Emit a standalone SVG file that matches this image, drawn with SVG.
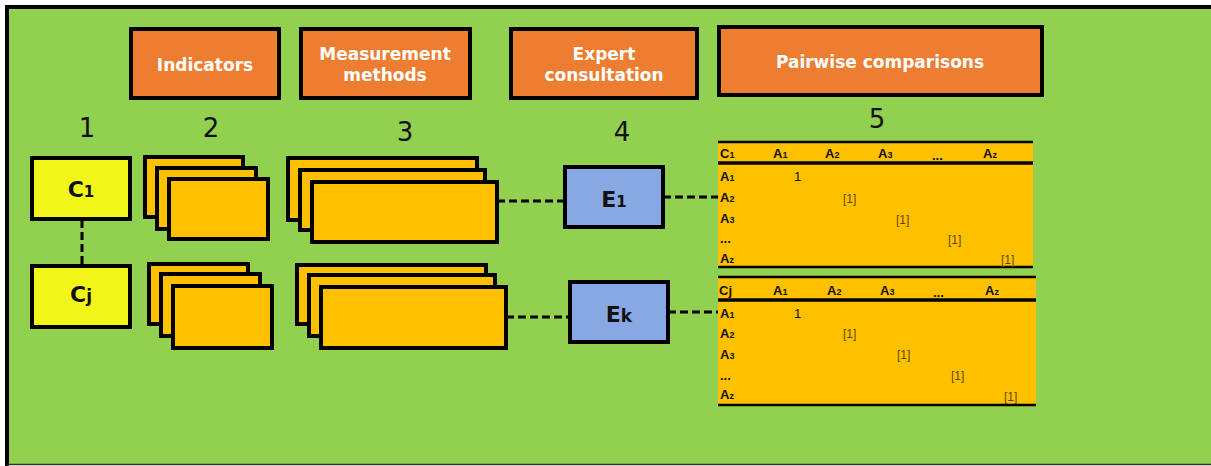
<svg xmlns="http://www.w3.org/2000/svg" width="1211" height="466" viewBox="0 0 1211 466">
<style>
.hdr{fill:#ED7D31;stroke:#000;stroke-width:4}
.hdt{font-family:"DejaVu Sans",Verdana,sans-serif;font-weight:bold;font-size:17px;fill:#fff;text-anchor:middle}
.num{font-family:"DejaVu Sans",Verdana,sans-serif;font-size:26px;fill:#111;text-anchor:middle}
.crit{fill:#F2F519;stroke:#000;stroke-width:4}
.card{fill:#FFC000;stroke:#000;stroke-width:4}
.exp{fill:#87A8E2;stroke:#000;stroke-width:4}
.big{font-family:"DejaVu Sans",Verdana,sans-serif;font-weight:bold;font-size:22px;fill:#111;text-anchor:middle}
.dash{stroke:#000;stroke-width:3;stroke-dasharray:8 4;fill:none}
.tfill{fill:#FFC000}
.tl{stroke:#000;stroke-width:2.5}
.th{stroke:#000;stroke-width:3.5}
.tt{font-family:"Liberation Sans",Arial,sans-serif;font-weight:bold;font-size:13px;fill:#111}
.sub{font-size:9px}
.v1{font-family:"Liberation Sans",Arial,sans-serif;font-size:13px;fill:#111}
.vb{font-family:"Liberation Sans Narrow","Liberation Sans",Arial,sans-serif;font-size:12px;fill:#5E4A00}
</style>
<rect x="0" y="0" width="1211" height="466" fill="#fff"/>
<rect x="7" y="7" width="1210" height="457" fill="#92D050"/>
<path d="M7 466 V7 H1211" stroke="#000" stroke-width="4" fill="none"/>
<path d="M7 464.5 H1211" stroke="#333" stroke-width="1.5"/>

<g id="header-indicators"><rect class="hdr" x="131" y="29" width="148" height="69"/><text class="hdt" x="205" y="71">Indicators</text></g>
<g id="header-measurement"><rect class="hdr" x="301" y="29" width="169" height="69"/><text class="hdt" x="385" y="60">Measurement</text><text class="hdt" x="385" y="81">methods</text></g>
<g id="header-expert"><rect class="hdr" x="511" y="29" width="186" height="69"/><text class="hdt" x="604" y="60">Expert</text><text class="hdt" x="604" y="81">consultation</text></g>
<g id="header-pairwise"><rect class="hdr" x="719" y="27" width="323" height="68"/><text class="hdt" x="880" y="68">Pairwise comparisons</text></g>

<g id="numbers">
<text class="num" x="87" y="137">1</text>
<text class="num" x="211" y="137">2</text>
<text class="num" x="405" y="141">3</text>
<text class="num" x="622" y="141">4</text>
<text class="num" x="877" y="128">5</text>
</g>

<g id="connectors">
<line class="dash" x1="82" y1="220" x2="82" y2="266"/>
<line class="dash" x1="497" y1="201" x2="564" y2="201"/>
<line class="dash" x1="663" y1="197" x2="718" y2="197"/>
<line class="dash" x1="506" y1="317" x2="569" y2="317"/>
<line class="dash" x1="668" y1="312" x2="718" y2="312"/>
</g>

<g id="c1"><rect class="crit" x="32" y="158" width="98" height="61"/><text class="big" x="81" y="197">C<tspan font-size="15">1</tspan></text></g>
<g id="cj"><rect class="crit" x="32" y="266" width="98" height="61"/><text class="big" x="81" y="302">C<tspan font-size="17">j</tspan></text></g>

<g id="indicators-1">
<rect class="card" x="145" y="157" width="98" height="60"/>
<rect class="card" x="157" y="168" width="99" height="61"/>
<rect class="card" x="169" y="179" width="99" height="60"/>
</g>
<g id="indicators-j">
<rect class="card" x="149" y="264" width="99" height="60"/>
<rect class="card" x="161" y="274" width="99" height="62"/>
<rect class="card" x="173" y="286" width="99" height="62"/>
</g>

<g id="methods-1">
<rect class="card" x="288" y="158" width="189" height="62"/>
<rect class="card" x="300" y="170" width="185" height="60"/>
<rect class="card" x="312" y="182" width="185" height="60"/>
</g>
<g id="methods-j">
<rect class="card" x="297" y="265" width="189" height="59"/>
<rect class="card" x="309" y="275" width="186" height="61"/>
<rect class="card" x="321" y="287" width="185" height="61"/>
</g>

<g id="e1"><rect class="exp" x="565" y="167" width="98" height="60"/><text class="big" x="614" y="207">E<tspan font-size="15">1</tspan></text></g>
<g id="ek"><rect class="exp" x="570" y="282" width="98" height="60"/><text class="big" x="619" y="322">E<tspan font-size="17">k</tspan></text></g>

<g id="table-1">
<rect class="tfill" x="718" y="142" width="315" height="125"/>
<line class="tl" x1="718" y1="142" x2="1033" y2="142"/>
<line class="th" x1="718" y1="163" x2="1033" y2="163"/>
<line class="tl" x1="718" y1="267" x2="1033" y2="267"/>
<text class="tt" x="720" y="158">C<tspan class="sub">1</tspan></text>
<text class="tt" x="773" y="158">A<tspan class="sub">1</tspan></text>
<text class="tt" x="825" y="158">A<tspan class="sub">2</tspan></text>
<text class="tt" x="878" y="158">A<tspan class="sub">3</tspan></text>
<text class="tt" x="932" y="160" font-size="8">...</text>
<text class="tt" x="983" y="158">A<tspan class="sub">z</tspan></text>
<text class="tt" x="720" y="181">A<tspan class="sub">1</tspan></text>
<text class="tt" x="720" y="202">A<tspan class="sub">2</tspan></text>
<text class="tt" x="720" y="223">A<tspan class="sub">3</tspan></text>
<text class="tt" x="720" y="243" font-size="8">...</text>
<text class="tt" x="720" y="263">A<tspan class="sub">z</tspan></text>
<text class="v1" x="794" y="181">1</text>
<text class="vb" x="843" y="203">[1]</text>
<text class="vb" x="896" y="224">[1]</text>
<text class="vb" x="948" y="244">[1]</text>
<text class="vb" x="1001" y="264">[1]</text>
</g>

<g id="table-j">
<rect class="tfill" x="718" y="277" width="318" height="128"/>
<line class="tl" x1="718" y1="277" x2="1036" y2="277"/>
<line class="th" x1="718" y1="300" x2="1036" y2="300"/>
<line class="tl" x1="718" y1="405" x2="1036" y2="405"/>
<text class="tt" x="719" y="295">Cj</text>
<text class="tt" x="773" y="295">A<tspan class="sub">1</tspan></text>
<text class="tt" x="827" y="295">A<tspan class="sub">2</tspan></text>
<text class="tt" x="880" y="295">A<tspan class="sub">3</tspan></text>
<text class="tt" x="933" y="297" font-size="8">...</text>
<text class="tt" x="985" y="295">A<tspan class="sub">z</tspan></text>
<text class="tt" x="720" y="318">A<tspan class="sub">1</tspan></text>
<text class="tt" x="720" y="338">A<tspan class="sub">2</tspan></text>
<text class="tt" x="720" y="359">A<tspan class="sub">3</tspan></text>
<text class="tt" x="720" y="380" font-size="8">...</text>
<text class="tt" x="720" y="399">A<tspan class="sub">z</tspan></text>
<text class="v1" x="794" y="318">1</text>
<text class="vb" x="843" y="338">[1]</text>
<text class="vb" x="897" y="359">[1]</text>
<text class="vb" x="951" y="380">[1]</text>
<text class="vb" x="1004" y="401">[1]</text>
</g>
</svg>
